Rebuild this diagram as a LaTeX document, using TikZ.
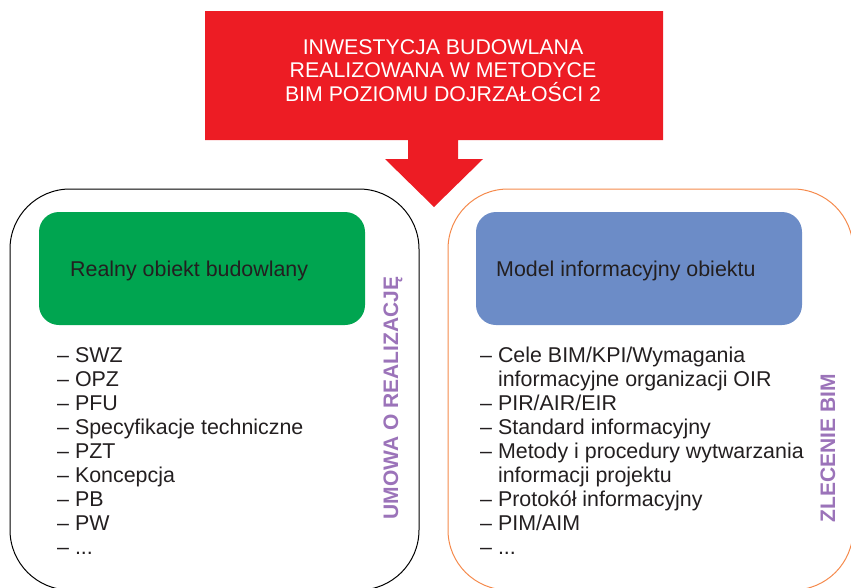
\documentclass[tikz,border=0pt]{standalone}
\usepackage{fontspec}
\setmainfont{Liberation Sans}
\definecolor{bimred}{HTML}{ED1C24}
\definecolor{bimgreen}{HTML}{00A550}
\definecolor{bimblue}{HTML}{6C8CC7}
\definecolor{bimpurple}{HTML}{9B73B9}
\definecolor{bimorange}{HTML}{F58A4C}
\definecolor{bimtext}{HTML}{231F20}
\tikzset{
  txt/.style={inner sep=0pt, text=bimtext, font=\fontsize{21.4}{24}\selectfont},
  itemtxt/.style={txt, anchor=base west},
  vert/.style={inner sep=0pt, text=bimpurple, font=\fontsize{21}{24}\selectfont\bfseries, rotate=90},
  outerbox/.style={line width=1pt, rounded corners=60pt},
  innerbox/.style={rounded corners=20pt},
}
\begin{document}
\begin{tikzpicture}[x=1pt,y=-1pt]
\useasboundingbox (0,0) rectangle (851,587);
\clip (0,0) rectangle (851,587);
% outer boxes
\draw[outerbox, draw=black] (10,189) rectangle (419,590);
\draw[outerbox, draw=bimorange] (448,189) rectangle (853,590);
% red banner with arrow
\fill[bimred] (205,11) -- (663,11) -- (663,140) -- (458,140) -- (458,159) -- (483,159)
  -- (434,207) -- (385,159) -- (408,159) -- (408,140) -- (205,140) -- cycle;
\node[inner sep=0pt, text=white, font=\fontsize{21.3}{23.8}\selectfont, align=center, anchor=base]
  (title) at (443,101.6) {INWESTYCJA BUDOWLANA\\REALIZOWANA W METODYCE\\BIM POZIOMU DOJRZAŁOŚCI 2};
% inner boxes
\fill[innerbox, bimgreen] (39,212) rectangle (365,325);
\fill[innerbox, bimblue] (476,212) rectangle (802,325);
\node[itemtxt] (gtxt) at (70,276) {Realny obiekt budowlany};
\node[itemtxt] (btxt) at (496,276) {Model informacyjny obiektu};
% left list
\node[itemtxt] (L1) at (57,362.5) {– SWZ};
\node[itemtxt] (L2) at (57,386.5) {– OPZ};
\node[itemtxt] (L3) at (57,410.5) {– PFU};
\node[itemtxt] (L4) at (57,434.5) {– Specyfikacje techniczne};
\node[itemtxt] (L5) at (57,458.5) {– PZT};
\node[itemtxt] (L6) at (57,482.5) {– Koncepcja};
\node[itemtxt] (L7) at (57,506.5) {– PB};
\node[itemtxt] (L8) at (57,530.5) {– PW};
\node[itemtxt] (L9) at (57,554.5) {– ...};
% right list
\node[itemtxt] (R1) at (480,362.5) {– Cele BIM/KPI/Wymagania};
\node[itemtxt] (R2) at (480,386.5) {\phantom{– }informacyjne organizacji OIR};
\node[itemtxt] (R3) at (480,410.5) {– PIR/AIR/EIR};
\node[itemtxt] (R4) at (480,434.5) {– Standard informacyjny};
\node[itemtxt] (R5) at (480,458.5) {– Metody i procedury wytwarzania};
\node[itemtxt] (R6) at (480,482.5) {\phantom{– }informacji projektu};
\node[itemtxt] (R7) at (480,506.5) {– Protokół informacyjny};
\node[itemtxt] (R8) at (480,530.5) {– PIM/AIM};
\node[itemtxt] (R9) at (480,554.5) {– ...};
% vertical labels
\node[vert] (umowa) at (393,398) {UMOWA O REALIZACJĘ};
\node[vert] (zlec) at (828,448) {ZLECENIE BIM};
\end{tikzpicture}
\end{document}
